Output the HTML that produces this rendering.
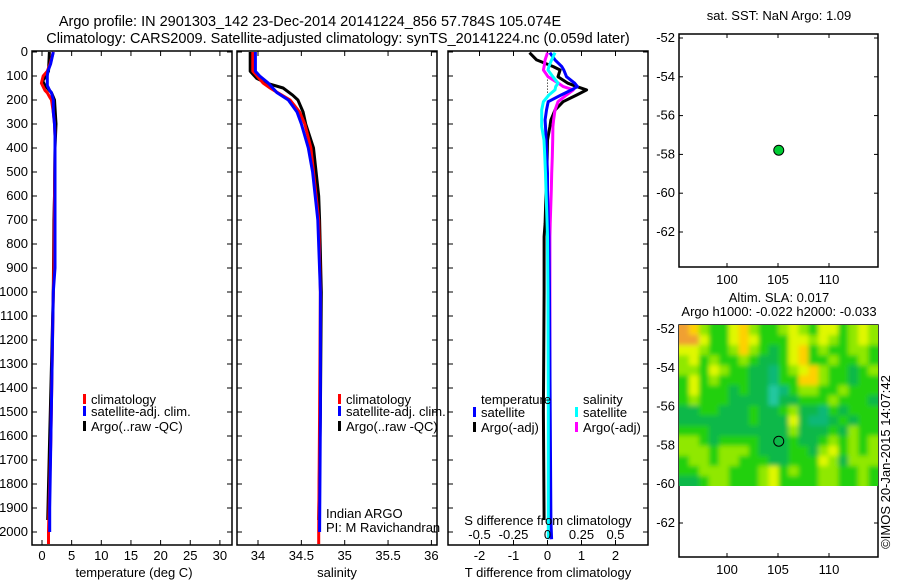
<!DOCTYPE html>
<html><head><meta charset="utf-8"><style>
body{margin:0;background:#fff;}
svg{display:block;font-family:"Liberation Sans",sans-serif;}
</style></head><body>
<svg id="c" width="900" height="580" xmlns="http://www.w3.org/2000/svg">
<defs>
<filter id="blur" x="0" y="0" width="1" height="1"><feGaussianBlur stdDeviation="2.5"/></filter>
<clipPath id="hclip"><rect x="679" y="325" width="199" height="161"/></clipPath>
</defs>
</svg>
<script>
// ---- data ----
const tempDepth = [0,50,80,100,120,130,140,160,170,190,200,250,300,350,400,600,900,1000,1300,1600,1900,2000,2050];
const tempClim  = [1.9,1.35,0.9,0.2,0.0,-0.1,0.1,0.5,0.9,1.35,1.6,1.9,2.1,2.2,2.2,2.1,2.0,1.9,1.7,1.5,1.2,1.1,1.1];
const tempSat   = [1.9,1.45,1.0,0.9,0.9,0.9,0.9,1.3,1.6,1.8,1.9,1.9,2.1,2.2,2.2,2.2,2.2,1.9,1.7,1.5,1.3,1.3,1.3];
const argoTDepth = [0,80,110,120,140,170,200,300,400,600,700,1000,1300,1600,1950];
const argoT      = [1.24,1.1,0.4,0.1,0.5,1.6,2.1,2.36,2.2,2.1,2.0,1.9,1.6,1.3,0.96];

const salDepth = [0,80,100,130,150,170,200,250,300,400,500,600,700,1000,1500,2000,2050];
const salClim  = [33.94,33.94,33.99,34.06,34.14,34.23,34.37,34.48,34.54,34.61,34.64,34.67,34.70,34.72,34.71,34.70,34.70];
const salSat   = [33.97,33.97,34.02,34.12,34.17,34.22,34.35,34.45,34.50,34.58,34.63,34.66,34.69,34.72,34.72,34.71,34.71];
const argoSDepth = [0,80,110,130,150,180,200,250,300,400,500,600,700,1000,1500,1950];
const argoS      = [33.91,33.91,33.985,34.10,34.29,34.40,34.46,34.52,34.55,34.64,34.67,34.70,34.71,34.73,34.72,34.70];

const diffDepth = [3,33,61,75,103,130,144,158,179,207,242,283,311,367,436,505,575,714,769,1000,1500,1950,2030];
const dTsat  = [0.07,0.22,0.42,0.48,0.56,0.8,0.88,0.71,0.4,0.02,-0.03,-0.07,-0.06,-0.04,-0.02,0,0,0.03,0.04,0.06,0.08,0.1,0.12];
const dTargo = [-0.53,-0.32,0.17,0.37,0.31,0.6,0.86,1.15,0.86,0.46,0.22,0.1,0.07,0.0,-0.01,-0.02,-0.04,-0.07,-0.1,-0.1,-0.12,-0.1,-0.1];
const dSsat  = [0.055,0.03,0.01,0.004,0.04,0.077,0.06,0.055,0.01,-0.03,-0.043,-0.043,-0.043,-0.026,-0.02,-0.015,-0.011,-0.003,0,0.004,0.006,0.006,0.006];
const dSargo = [0,-0.018,-0.025,-0.03,0.004,0.08,0.116,0.19,0.14,0.077,0.055,0.045,0.04,0.038,0.035,0.031,0.028,0.02,0.018,0.018,0.018,0.018,0.018];

const depthTicks = [0,100,200,300,400,500,600,700,800,900,1000,1100,1200,1300,1400,1500,1600,1700,1800,1900,2000];
const tempTicks = [0,5,10,15,20,25,30];
const salTicks = [34,34.5,35,35.5,36];
const salTickLabels = ["34","34.5","35","35.5","36"];
const dTTicks = [-2,-1,0,1,2];
const dSTicks = [-0.5,-0.25,0,0.25,0.5];
const dSTickLabels = ["-0.5","-0.25","0","0.25","0.5"];

const lonTicks = [100,105,110];
const latTicks = [-52,-54,-56,-58,-60,-62];
const argoLon = [105.074];
const argoLat = [-57.784];

// SLA heatmap levels (rows north->south, cols west->east)
const slaGrid = [
[5,4,2,1,1,3,4,2,1,1,2,3,2,1,3,3,1,2,3,2],
[5,5,3,1,1,3,4,3,1,1,1,3,3,2,3,2,1,2,3,2],
[3,3,2,1,1,2,4,2,1,0,1,3,4,1,2,1,1,2,2,1],
[2,3,1,2,1,1,2,1,0,0,1,3,4,1,1,2,1,1,2,1],
[2,2,1,3,2,1,1,0,0,-1,1,2,3,4,2,1,1,0,1,2],
[1,3,1,2,1,1,1,0,0,-1,1,1,4,4,2,1,1,0,1,1],
[1,3,1,1,1,0,1,0,0,-2,-1,1,2,2,1,1,2,1,1,1],
[1,2,1,1,1,0,0,0,0,-2,0,0,1,1,1,2,1,1,1,0],
[0,0,1,1,0,0,0,1,0,0,1,2,0,0,-1,1,0,1,1,1],
[0,0,0,0,0,0,0,1,0,0,0,3,0,-1,-1,0,1,0,1,1],
[1,1,1,0,0,0,0,0,0,0,0,2,0,0,0,1,0,2,1,1],
[2,2,1,0,1,1,1,1,0,0,0,1,0,0,1,2,1,2,1,2],
[2,2,2,1,2,2,2,1,0,0,0,1,1,0,2,3,1,2,1,2],
[1,2,2,1,2,2,1,1,1,0,0,1,1,1,3,2,0,2,2,2],
[1,1,2,2,2,1,1,1,2,3,1,2,1,1,2,2,1,1,2,1],
[0,0,1,2,2,1,1,1,2,3,1,1,1,1,2,2,1,1,2,1]];

// ---- helpers ----
const NS="http://www.w3.org/2000/svg";
const svg=document.getElementById('c');
const FS=13;
function mk(tag,attrs,parent){const e=document.createElementNS(NS,tag);for(const k in attrs)e.setAttribute(k,attrs[k]);(parent||svg).appendChild(e);return e;}
function txt(x,y,s,anchor,size,parent){const e=mk('text',{x:x,y:y,'font-size':size||FS,'text-anchor':anchor||'start',fill:'#000'},parent);e.textContent=s;return e;}

const TOPY=51,BOTY=545;
const yD=d=>52+d*0.24;
const P1={l:32,r:232}, P2={l:237,r:437}, P3={l:448,r:648};
const xT=v=>42+v*5.93;
const xS=s=>258+(s-34)*86.7;
const xDT=v=>547.5+v*34;
const xDS=v=>547.5+v*136;

function frame(p,name){
  const g=mk('g',{});
  
  
  mk('rect',{x:p.l,y:TOPY,width:p.r-p.l,height:BOTY-TOPY,fill:'none',stroke:'#000','stroke-width':1.5},g);
  depthTicks.forEach(d=>{mk('line',{x1:p.l,x2:p.l+5,y1:yD(d),y2:yD(d),stroke:'#000'},g);mk('line',{x1:p.r-5,x2:p.r,y1:yD(d),y2:yD(d),stroke:'#000'},g);});
  return g;
}
function xticks(g,vals,fx,labels,ly){
  vals.forEach((v,i)=>{const x=fx(v);mk('line',{x1:x,x2:x,y1:TOPY,y2:TOPY+5,stroke:'#000'},g);mk('line',{x1:x,x2:x,y1:BOTY-5,y2:BOTY,stroke:'#000'},g);
    const tt=txt(x,ly,labels?labels[i]:String(v),'middle',FS,g);
    
    });
}
function prof(depths,vals,fx,color,name,w){
  const pts=depths.map((d,i)=>fx(vals[i]).toFixed(1)+','+yD(d).toFixed(1)).join(' ');
  const e=mk('polyline',{points:pts,fill:'none',stroke:color,'stroke-width':w||3,'stroke-linejoin':'round'});
  
  
}
function legend(x,y,color,label,name){
  const g=mk('g',{});
  
  
  mk('rect',{x:x,y:y-10,width:3,height:10,fill:color},g);
  txt(x+8,y,label,'start',FS,g);
}
function label(x,y,s,anchor,size,name){
  const e=txt(x,y,s,anchor,size);
  
  
  return e;
}

// titles
label(310,26,'Argo profile: IN 2901303_142 23-Dec-2014 20141224_856 57.784S 105.074E','middle',14.5,'title-line-1');
label(338,43,'Climatology: CARS2009. Satellite-adjusted climatology: synTS_20141224.nc (0.059d later)','middle',14.5,'title-line-2');

// panel 1
const g1=frame(P1,'temperature-panel');
depthTicks.forEach(d=>{const tt=txt(28,yD(d)+4,String(d),'end',FS,g1);
  
  });
xticks(g1,tempTicks,xT,null,560);
label(134,577,'temperature (deg C)','middle',FS,'x-axis-title-temperature');
prof(argoTDepth,argoT,xT,'#000','argo-temperature-line');
prof(tempDepth,tempClim,xT,'#f00','climatology-temperature-line');
prof(tempDepth.slice(0,-1),tempSat.slice(0,-1),xT,'#00f','satellite-temperature-line');
legend(83,404,'#f00','climatology','legend-climatology');
legend(83,416,'#00f','satellite-adj. clim.','legend-satellite');
legend(83,431,'#000','Argo(..raw -QC)','legend-argo');

// panel 2
const g2=frame(P2,'salinity-panel');
xticks(g2,salTicks,xS,salTickLabels,560);
label(337,577,'salinity','middle',FS,'x-axis-title-salinity');
prof(argoSDepth,argoS,xS,'#000','argo-salinity-line');
prof(salDepth,salClim,xS,'#f00','climatology-salinity-line');
prof(salDepth.slice(0,-1),salSat.slice(0,-1),xS,'#00f','satellite-salinity-line');
legend(338,404,'#f00','climatology','legend-climatology-sal');
legend(338,416,'#00f','satellite-adj. clim.','legend-satellite-sal');
legend(338,431,'#000','Argo(..raw -QC)','legend-argo-sal');
label(326,518,'Indian ARGO','start',FS,'institution-label');
label(326,532,'PI: M Ravichandran','start',FS,'pi-label');

// panel 3
const g3=frame(P3,'difference-panel');
xticks(g3,dTTicks,xDT,null,560);
label(548,577,'T difference from climatology','middle',FS,'x-axis-title-tdiff');
mk('line',{x1:xDT(0),x2:xDT(0),y1:yD(115),y2:yD(230),stroke:'#000','stroke-dasharray':'1,2'});
prof(diffDepth.slice(0,-1),dTargo.slice(0,-1),xDT,'#000','argo-tdiff-line');
prof(diffDepth,dSargo,xDS,'#f0f','argo-sdiff-line');
prof(diffDepth,dTsat,xDT,'#00f','satellite-tdiff-line');
prof(diffDepth,dSsat,xDS,'#0ff','satellite-sdiff-line');
label(548,525,'S difference from climatology','middle',FS,'s-diff-axis-title');
dSTicks.forEach((v,i)=>{label(xDS(v),539,dSTickLabels[i],'middle',FS,'s-diff-tick-label');});
label(481,404,'temperature','start',FS,'legend-temperature-heading');
label(583,404,'salinity','start',FS,'legend-salinity-heading');
legend(473,417,'#00f','satellite','legend-t-satellite');
legend(473,432,'#000','Argo(-adj)','legend-t-argo');
legend(575,417,'#0ff','satellite','legend-s-satellite');
legend(575,432,'#f0f','Argo(-adj)','legend-s-argo');

// maps
const M={l:679,r:878};
const xLon=lon=>727+(lon-100)*10.2;
function mapFrame(tp,bt,y52,name){
  const g=mk('g',{});
  
  
  const yLat=lat=>y52+(-52-lat)*19.4;
  return {g,yLat,draw:()=>{
    mk('rect',{x:M.l,y:tp,width:M.r-M.l,height:bt-tp,fill:'none',stroke:'#000','stroke-width':1.5},g);
    lonTicks.forEach(v=>{const x=xLon(v);mk('line',{x1:x,x2:x,y1:tp,y2:tp+4,stroke:'#000'},g);mk('line',{x1:x,x2:x,y1:bt-4,y2:bt,stroke:'#000'},g);
      const tt=txt(x,bt+17,String(v),'middle',FS,g);
      
      });
    latTicks.forEach(v=>{const y=yLat(v);mk('line',{x1:M.l,x2:M.l+4,y1:y,y2:y,stroke:'#000'},g);mk('line',{x1:M.r-4,x2:M.r,y1:y,y2:y,stroke:'#000'},g);
      const tt=txt(M.l-4,y+4,String(v),'end',FS,g);
      
      });
  }};
}
// top map
label(779,20,'sat. SST: NaN Argo: 1.09','middle',FS,'sst-map-title');
const m1=mapFrame(34,267,38,'sst-map');
m1.draw();
argoLon.forEach((lon,i)=>{const c=mk('circle',{cx:xLon(lon),cy:m1.yLat(argoLat[i]),r:5,fill:'#0c3',stroke:'#000','stroke-width':1});
  
  });

// bottom map
label(779,302,'Altim. SLA: 0.017','middle',FS,'sla-map-title');
label(779,316,'Argo h1000: -0.022 h2000: -0.033','middle',FS,'sla-map-subtitle');
const m2=mapFrame(325,557,329,'sla-map');
const levelColor={'-2':'#20c8a0','-1':'#10b878','0':'#10b848','1':'#20d010','2':'#90e800','3':'#e0f800','4':'#ffd000','5':'#f0a030'};
const hclip=mk('g',{'clip-path':'url(#hclip)'});
const hg=mk('g',{filter:'url(#blur)'},hclip);


const rows=slaGrid.length, cols=slaGrid[0].length, hTop=325, hBot=486;
const cw=(M.r-M.l)/cols, ch=(hBot-hTop)/rows;
slaGrid.forEach((row,r)=>row.forEach((v,c)=>{
  const x0=M.l+c*cw-(c===0?6:0), y0=hTop+r*ch-(r===0?6:0);
  const w=cw+0.5+(c===0?6:0)+(c===cols-1?6:0), h=ch+0.5+(r===0?6:0)+(r===rows-1?6:0);
  const cell=mk('rect',{x:x0.toFixed(2),y:y0.toFixed(2),width:w.toFixed(2),height:h.toFixed(2),fill:levelColor[String(v)]},hg);
  
  
}));
m2.draw();
argoLon.forEach((lon,i)=>{const c=mk('circle',{cx:xLon(lon),cy:m2.yLat(argoLat[i]),r:5,fill:'none',stroke:'#000','stroke-width':1});
  
  });

const stamp=txt(0,0,'©IMOS 20-Jan-2015 14:07:42','middle',FS);
stamp.setAttribute('transform','translate(890,462) rotate(-90)');


</script>
</body></html>
